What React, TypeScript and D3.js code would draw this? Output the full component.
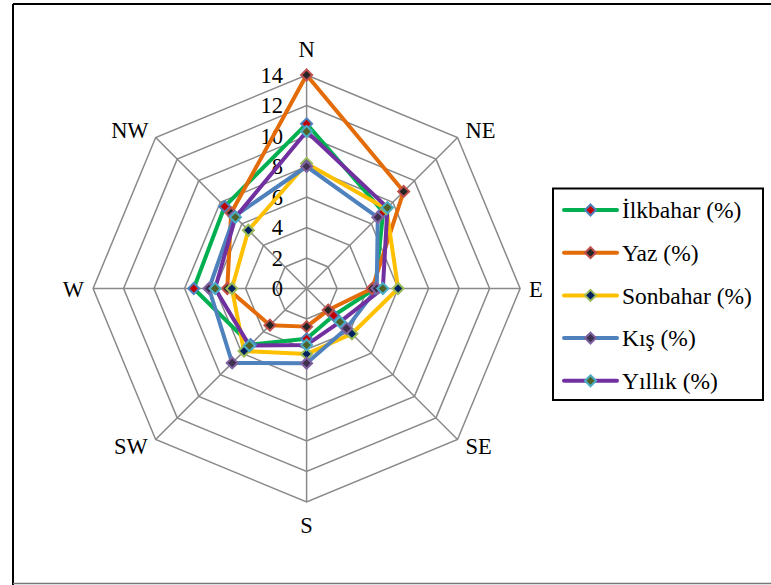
import React from "react";
import * as d3 from "d3";

// Wind directions, clockwise from north
const directions = ["N", "NE", "E", "SE", "S", "SW", "W", "NW"];

// Frequency of wind by direction (%)
const ilkbahar = [10.8, 7.1, 4.5, 2.5, 3.3, 5.2, 7.4, 7.6];
const yaz = [14.0, 9.0, 4.3, 2.0, 2.5, 3.4, 5.2, 7.0];
const sonbahar = [8.2, 7.4, 6.0, 4.2, 4.3, 5.8, 4.9, 5.4];
const kis = [8.0, 6.6, 4.6, 3.7, 4.9, 6.9, 6.4, 6.7];
const yillik = [10.3, 7.5, 5.0, 3.1, 3.7, 5.3, 6.0, 6.6];

const ticks = [0, 2, 4, 6, 8, 10, 12, 14];

const seriesNames = ["İlkbahar (%)", "Yaz (%)", "Sonbahar (%)", "Kış (%)", "Yıllık (%)"];
const seriesValues = [ilkbahar, yaz, sonbahar, kis, yillik];
const lineColors = ["#00B050", "#E36C09", "#FFC000", "#4F81BD", "#7030A0"];
const markerFills = ["#C00000", "#262626", "#002060", "#403151", "#4F6228"];
const markerStrokes = ["#4F81BD", "#C0504D", "#9BBB59", "#8064A2", "#4BACC6"];

const W = 771;
const H = 585;
const cx = 306.6;
const cy = 288.5;
const R = 213.5;
const FONT = "Liberation Serif, Times New Roman, serif";
const GRID = "#898989";

const r = d3.scaleLinear().domain([0, 14]).range([0, R]);
const angle = d3
  .scalePoint<string>()
  .domain(directions)
  .range([0, (2 * Math.PI * (directions.length - 1)) / directions.length]);

const pt = (dir: string, v: number): [number, number] => {
  const a = angle(dir)!;
  return [cx + r(v) * Math.sin(a), cy - r(v) * Math.cos(a)];
};

const radial = d3
  .lineRadial<number>()
  .angle((_, i) => angle(directions[i])!)
  .radius((d) => r(d))
  .curve(d3.curveLinearClosed);

const diamond = (x: number, y: number, s: number) =>
  `M${x},${y - s}L${x + s},${y}L${x},${y + s}L${x - s},${y}Z`;

// Label placement around the outer ring: [dx, dy, anchor]
const labelOffsets: Record<string, [number, number, string]> = {
  N: [0, -18, "middle"],
  NE: [8, 0, "start"],
  E: [9, 8, "start"],
  SE: [8, 15, "start"],
  S: [0, 31, "middle"],
  SW: [-8, 15, "end"],
  W: [-9, 8, "end"],
  NW: [-7, 0, "end"],
};

const textStyle: React.CSSProperties = { fontFamily: FONT, fontSize: "22.5px" };
const legendTextStyle: React.CSSProperties = { fontFamily: FONT, fontSize: "23.5px" };

export default function App() {
  const legendX = 553;
  const legendY = 188.5;
  const legendRowY = (i: number) => 210 + i * 42.7;

  return (
    <svg
      width={W}
      height={H}
      style={{ position: "absolute", left: 0, top: 0, background: "#fff", fontFamily: FONT }}
    >
      {/* chart frame */}
      <line x1={13} y1={4} x2={W} y2={4} stroke="#000" strokeWidth={2} />
      <line x1={13} y1={4} x2={13} y2={H} stroke="#000" strokeWidth={2} />
      <line x1={13} y1={583.5} x2={W} y2={583.5} stroke="#777" strokeWidth={1.5} />

      {/* grid rings */}
      {ticks.slice(1).map((t) => (
        <path
          key={t}
          d={radial(directions.map(() => t)) || ""}
          transform={`translate(${cx},${cy})`}
          fill="none"
          stroke={GRID}
          strokeWidth={1.5}
        />
      ))}
      {/* spokes */}
      {directions.map((d) => {
        const [x, y] = pt(d, 14);
        return <line key={d} x1={cx} y1={cy} x2={x} y2={y} stroke={GRID} strokeWidth={1.5} />;
      })}

      {/* tick labels */}
      {ticks.map((t) => (
        <text
          key={t}
          x={283}
          y={cy - r(t)}
          dy="0.35em"
          textAnchor="end"
          style={textStyle}
          fill="#000"
        >
          {t}
        </text>
      ))}

      {/* direction labels */}
      {directions.map((d) => {
        const [x, y] = pt(d, 14);
        const [dx, dy, anchor] = labelOffsets[d];
        return (
          <text
            key={d}
            x={x + dx}
            y={y + dy}
            textAnchor={anchor as any}
            style={textStyle}
            fill="#000"
          >
            {d}
          </text>
        );
      })}

      {/* series lines */}
      {seriesValues.map((vals, i) => (
        <path
          key={i}
          d={radial(vals) || ""}
          transform={`translate(${cx},${cy})`}
          fill="none"
          stroke={lineColors[i]}
          strokeWidth={4}
          strokeLinejoin="round"
        />
      ))}

      {/* series markers */}
      {seriesValues.map((vals, i) => (
        <g key={i}>
          {vals.map((v, j) => {
            const [x, y] = pt(directions[j], v);
            return (
              <path
                key={j}
                d={diamond(x, y, 5.5)}
                fill={markerFills[i]}
                stroke={markerStrokes[i]}
                strokeWidth={2}
              />
            );
          })}
        </g>
      ))}

      {/* legend */}
      <rect
        x={legendX}
        y={legendY}
        width={210}
        height={211.5}
        fill="#fff"
        stroke="#000"
        strokeWidth={2}
      />
      {seriesNames.map((name, i) => {
        const y = legendRowY(i);
        return (
          <g key={name}>
            <line x1={564} y1={y} x2={617} y2={y} stroke={lineColors[i]} strokeWidth={4} strokeLinecap="round" />
            <path d={diamond(590.5, y, 5.5)} fill={markerFills[i]} stroke={markerStrokes[i]} strokeWidth={2} />
            <text x={622} y={y} dy="0.35em" style={legendTextStyle} fill="#000">
              {name}
            </text>
          </g>
        );
      })}
    </svg>
  );
}
